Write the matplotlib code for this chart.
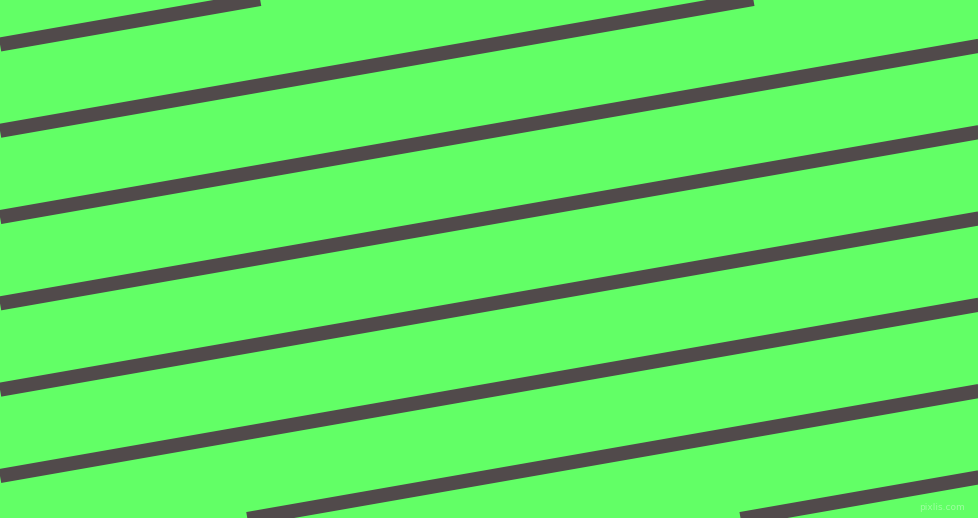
import matplotlib
matplotlib.use("Agg")
import matplotlib.pyplot as plt

# stripe centre heights (px) at the left edge, and at the right edge
left_y = [-41.8, 44.5, 130.8, 217.1, 303.4, 389.7, 476.0, 562.3, 648.6, 734.9]
right_y = [-213.1, -126.8, -40.5, 45.8, 132.1, 218.4, 304.7, 391.0, 477.3, 563.6]

W, H = 979, 518
bg = "#62ff66"
stripe = "#514a4b"

fig = plt.figure(figsize=(W / 100, H / 100), dpi=100)
ax = fig.add_axes([0, 0, 1, 1])
ax.set_facecolor(bg)
fig.patch.set_facecolor(bg)
for a, b in zip(left_y, right_y):
    ax.plot([0, W], [a, b], color=stripe, linewidth=10.15, solid_capstyle="butt")
ax.set_xlim(0, W)
ax.set_ylim(H, 0)
ax.axis("off")

ax.text(965, 508, "pixlis.com", fontsize=6.5, color="#9dff9f", ha="right", va="center",
        family="DejaVu Sans")

fig.savefig("out.png", dpi=100, facecolor=bg)
